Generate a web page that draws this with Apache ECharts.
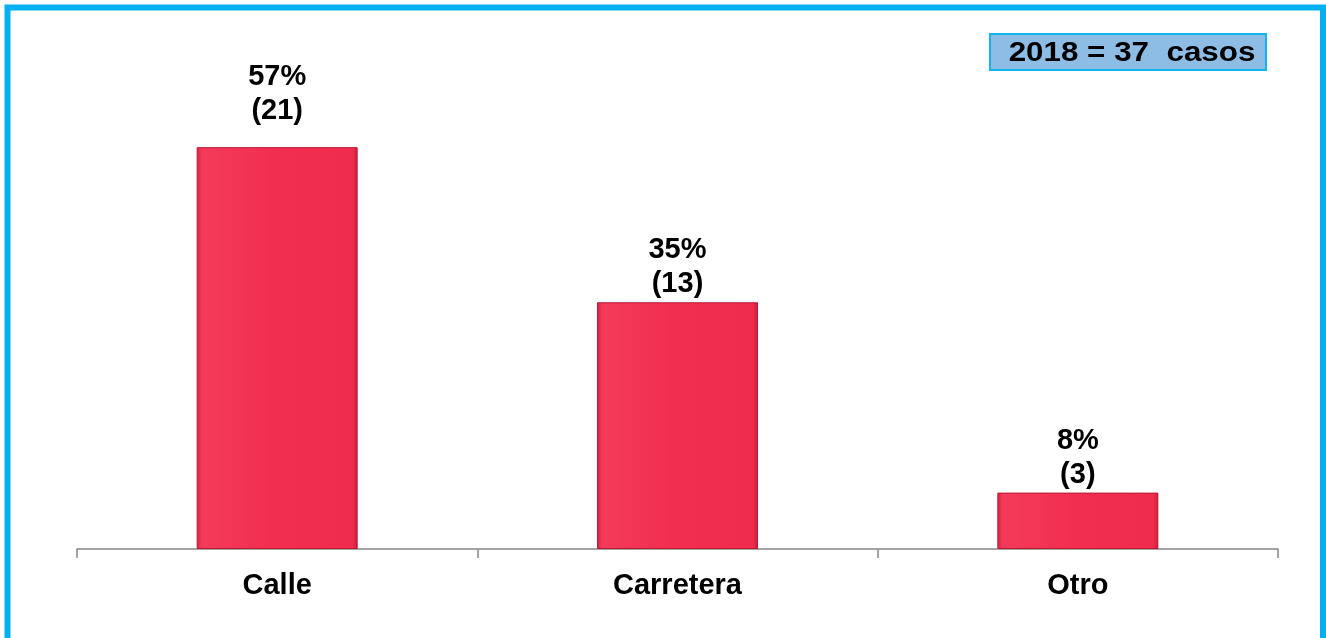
<!DOCTYPE html>
<html>
<head>
<meta charset="utf-8">
<script src="https://cdn.jsdelivr.net/npm/echarts@6/dist/echarts.min.js"></script>
<style>
html,body{margin:0;padding:0;background:#fff;}
#c{width:1326px;height:638px;}
</style>
</head>
<body>
<div id="c"></div>
<script>
const categories = ['Calle', 'Carretera', 'Otro'];
const percents = [57, 35, 8];
const counts = [21, 13, 3];
const totalLabel = '2018 = 37  casos';

const FONT = 'Liberation Sans, Arial, sans-serif';
const chart = echarts.init(document.getElementById('c'), null, {renderer: 'canvas'});
const barColor = new echarts.graphic.LinearGradient(0, 0, 1, 0, [
  {offset: 0, color: '#D81E3C'},
  {offset: 0.03, color: '#F43A5A'},
  {offset: 0.5, color: '#F22E50'},
  {offset: 0.97, color: '#F02C4E'},
  {offset: 1, color: '#C81B37'}
]);
const barData = percents.map((v, i) => ({
  value: v,
  label: {distance: i === 0 ? 19 : 1}
}));
chart.setOption({
  animation: false,
  backgroundColor: '#fff',
  grid: {left: 77, right: 48, top: 126, bottom: 89},
  xAxis: {
    type: 'category',
    data: categories,
    axisLine: {lineStyle: {color: '#868686', width: 1.5}},
    axisTick: {show: true, length: 9, lineStyle: {color: '#868686', width: 1.5}},
    axisLabel: {margin: 22, fontSize: 29, fontWeight: 'bold', color: '#000', fontFamily: FONT}
  },
  yAxis: {type: 'value', min: 0, max: 60, show: false, splitLine: {show: false}},
  series: [{
    type: 'bar',
    barWidth: 161,
    data: barData,
    itemStyle: {color: barColor, borderColor: '#B81A33', borderWidth: 1},
    label: {
      show: true,
      position: 'top',
      fontSize: 29,
      lineHeight: 34,
      fontWeight: 'bold',
      color: '#000',
      fontFamily: FONT,
      formatter: p => p.value + '%\n(' + counts[p.dataIndex] + ')'
    }
  }],
  graphic: [
    {type: 'rect', shape: {x: 7.5, y: 7.5, width: 1315.5, height: 700}, style: {fill: 'none', stroke: '#00B0F0', lineWidth: 6}, silent: true},
    {type: 'rect', shape: {x: 990, y: 34, width: 276, height: 36}, style: {fill: '#8DBDE4', stroke: '#12B4EE', lineWidth: 2}},
    {type: 'text', x: 1132, y: 53, scaleX: 1.12, style: {text: totalLabel, fontSize: 28, fontWeight: 'bold', fill: '#000', align: 'center', verticalAlign: 'middle', fontFamily: FONT}}
  ]
});
</script>
</body>
</html>
